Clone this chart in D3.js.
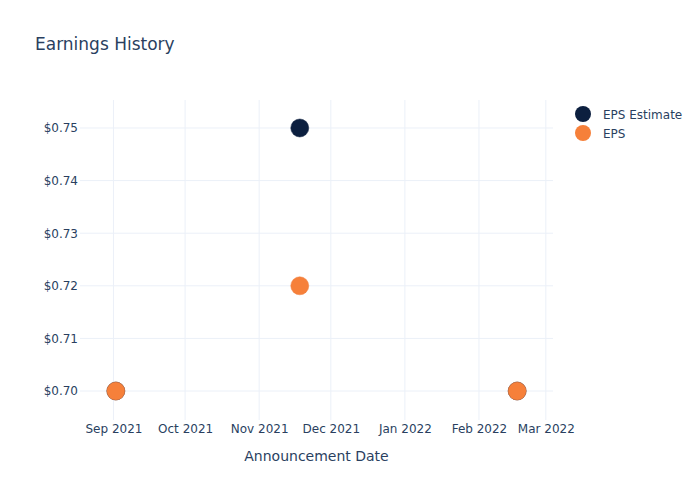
<!DOCTYPE html>
<html><head><meta charset="utf-8">
<script src="https://cdn.jsdelivr.net/npm/d3@7"></script>
<style>body{margin:0;background:#fff}svg{font-family:"DejaVu Sans",Verdana,sans-serif}</style>
</head><body><svg id="c" width="700" height="500"></svg>
<script>
const dates = ["2021-09-02", "2021-11-18", "2022-02-17"];
const epsEstimate = [0.70, 0.75, 0.70];
const eps = [0.70, 0.72, 0.70];
const yTicks = [0.70, 0.71, 0.72, 0.73, 0.74, 0.75];
const xTicks = ["2021-09-01","2021-10-01","2021-11-01","2021-12-01","2022-01-01","2022-02-01","2022-03-01"];
const seriesNames = ["EPS Estimate", "EPS"];
const colors = ["#0c1f3f", "#f6803a"];

const svg = d3.select("#c");
const parse = d3.utcParse("%Y-%m-%d");
const L = 80, R = 553, T = 100, B = 420;
const x = d3.scaleUtc().domain([parse("2021-08-18"), parse("2022-03-04")]).range([L, R]);
const y = d3.scaleLinear().domain([0.69449, 0.75532]).range([B, T]);
const txt = "#2a3f5f", grid = "#ebf0f8";

svg.append("text").attr("x", 35).attr("y", 50).attr("fill", txt).attr("font-size", 17).text("Earnings History");

const g = svg.append("g");
g.selectAll(".yg").data(yTicks).join("line").attr("x1", L).attr("x2", R)
  .attr("y1", d => y(d)).attr("y2", d => y(d)).attr("stroke", grid);
g.selectAll(".xg").data(xTicks).join("line").attr("y1", T).attr("y2", B)
  .attr("x1", d => x(parse(d))).attr("x2", d => x(parse(d))).attr("stroke", grid);

const yAxis = d3.axisLeft(y).tickValues(yTicks).tickSize(0).tickPadding(8).tickFormat(d => "$" + d3.format(".2f")(d));
const ya = svg.append("g").attr("transform", `translate(${L},0)`).call(yAxis).attr("font-family", null).attr("font-size", 12);
ya.select(".domain").remove();
ya.selectAll("text").attr("fill", txt).attr("x", -2);

const xAxis = d3.axisBottom(x).tickValues(xTicks.map(parse)).tickSize(0).tickPadding(4).tickFormat(d3.utcFormat("%b %Y"));
const xa = svg.append("g").attr("transform", `translate(0,${B})`).call(xAxis).attr("font-family", null).attr("font-size", 12);
xa.select(".domain").remove();
xa.selectAll("text").attr("fill", txt);

svg.append("text").attr("x", (L + R) / 2).attr("y", 461).attr("text-anchor", "middle")
  .attr("fill", txt).attr("font-size", 14).text("Announcement Date");

const series = [epsEstimate, eps];
series.forEach((vals, i) => {
  svg.append("g").selectAll("circle").data(vals).join("circle")
    .attr("cx", (d, j) => x(parse(dates[j]))).attr("cy", d => y(d)).attr("r", 9)
    .attr("fill", colors[i]).attr("stroke", i === 1 ? "#ef7d3c" : "#0c1f3f").attr("stroke-width", 0.5);
});

const lg = svg.append("g");
seriesNames.forEach((n, i) => {
  lg.append("circle").attr("cx", 583).attr("cy", 114 + i * 19).attr("r", 8).attr("fill", colors[i]);
  lg.append("text").attr("x", 603).attr("y", 114 + i * 19 + 4.5).attr("fill", txt).attr("font-size", 12).text(n);
});
</script></body></html>
